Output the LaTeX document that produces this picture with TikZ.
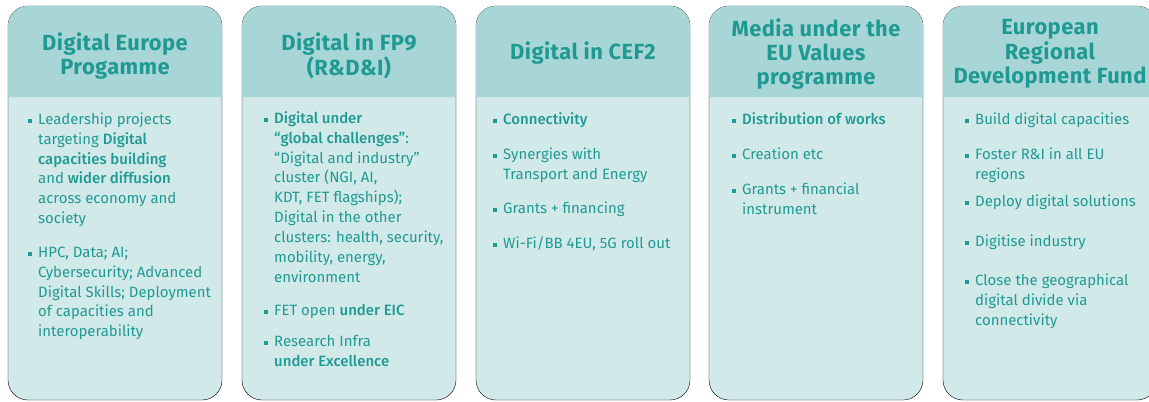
\documentclass[tikz,border=0pt]{standalone}
\usepackage{fontspec}
\setmainfont{Fira Sans}[BoldFont={Fira Sans Medium}]
\newfontfamily\headfont{Fira Sans}
\definecolor{ecteal}{HTML}{1F9A93}
\definecolor{headteal}{HTML}{A8D5D6}
\definecolor{bodyteal}{HTML}{D1E9E9}
\tikzstyle{panel body}=[fill=bodyteal, rounded corners=20bp]
\tikzstyle{panel head}=[fill=headteal]
\tikzstyle{title}=[inner sep=0pt, ecteal, align=center, font=\fontsize{22}{24.5}\selectfont\headfont\bfseries\addfontfeature{LetterSpace=2}]
\tikzstyle{items}=[inner sep=0pt, ecteal, align=left, anchor=north west, font=\fontsize{15}{20}\selectfont]
\newcommand{\sq}{\strut\llap{\rule[1pt]{4pt}{4pt}\hspace{6pt}}}

\begin{document}
\begin{tikzpicture}[x=1bp,y=-1bp]
    \useasboundingbox (0,0) rectangle (1149,401);

    % Panels
    \draw[panel body] (8,6) rectangle (222,400);
    \draw[panel body] (242,6) rectangle (456,400);
    \draw[panel body] (476,6) rectangle (690,400);
    \draw[panel body] (709,6) rectangle (923,400);
    \draw[panel body] (943,6) rectangle (1157,400);

    % Headers
    \fill[panel head] (8,97) {[rounded corners=20bp] -- (8,6) -- (222,6)} -- (222,97) -- cycle;
    \fill[panel head] (242,97) {[rounded corners=20bp] -- (242,6) -- (456,6)} -- (456,97) -- cycle;
    \fill[panel head] (476,97) {[rounded corners=20bp] -- (476,6) -- (690,6)} -- (690,97) -- cycle;
    \fill[panel head] (709,97) {[rounded corners=20bp] -- (709,6) -- (923,6)} -- (923,97) -- cycle;
    \fill[panel head] (943,97) {[rounded corners=20bp] -- (943,6) -- (1157,6)} -- (1157,97) -- cycle;

    % Titles
    \draw (115,56) node[title] (dep) {Digital Europe\\Progamme};
    \draw (349,56) node[title] (fp9) {Digital in FP9\\(R\&D\&I)};
    \draw (583,53) node[title] (cef) {Digital in CEF2};
    \draw (816,54) node[title] (media) {Media under the\\EU Values\\programme};
    \draw (1050,54) node[title] (erdf) {European\\Regional\\Development Fund};

    % Digital Europe
    \draw (38,110) node[items] (dep1) {\sq Leadership projects\\targeting \textbf{Digital}\\\textbf{capacities building}\\and \textbf{wider diffusion}\\across economy and\\society};
    \draw (38,243) node[items] (dep2) {\sq HPC, Data; AI;\\Cybersecurity; Advanced\\Digital Skills; Deployment\\of capacities and\\interoperability};

    % FP9
    \draw (274,109) node[items] (fp91) {\sq\textbf{Digital under}\\\textbf{``global challenges''}:\\``Digital and industry''\\cluster (NGI, AI,\\KDT, FET flagships);\\Digital in the other\\clusters: health, security,\\mobility, energy,\\environment};
    \draw (274,301) node[items] (fp92) {\sq FET open \textbf{under EIC}};
    \draw (274,332) node[items] (fp93) {\sq Research Infra\\\textbf{under Excellence}};

    % CEF2
    \draw (503,110) node[items] (cef1) {\sq\textbf{Connectivity}};
    \draw (503,145) node[items] (cef2) {\sq Synergies with\\Transport and Energy};
    \draw (503,199) node[items] (cef3) {\sq Grants + financing};
    \draw (503,234) node[items] (cef4) {\sq Wi-Fi/BB 4EU, 5G roll out};

    % Media
    \draw (742,110) node[items] (media1) {\sq\textbf{Distribution of works}};
    \draw (742,145) node[items] (media2) {\sq Creation etc};
    \draw (742,180) node[items] (media3) {\sq Grants + financial\\instrument};

    % ERDF
    \draw (975,110) node[items] (erdf1) {\sq Build digital capacities};
    \draw (975,145) node[items] (erdf2) {\sq Foster R\&I in all EU\\regions};
    \draw (975,192) node[items] (erdf3) {\sq Deploy digital solutions};
    \draw (975,232) node[items] (erdf4) {\sq Digitise industry};
    \draw (975,271) node[items] (erdf5) {\sq Close the geographical\\digital divide via\\connectivity};
\end{tikzpicture}
\end{document}
